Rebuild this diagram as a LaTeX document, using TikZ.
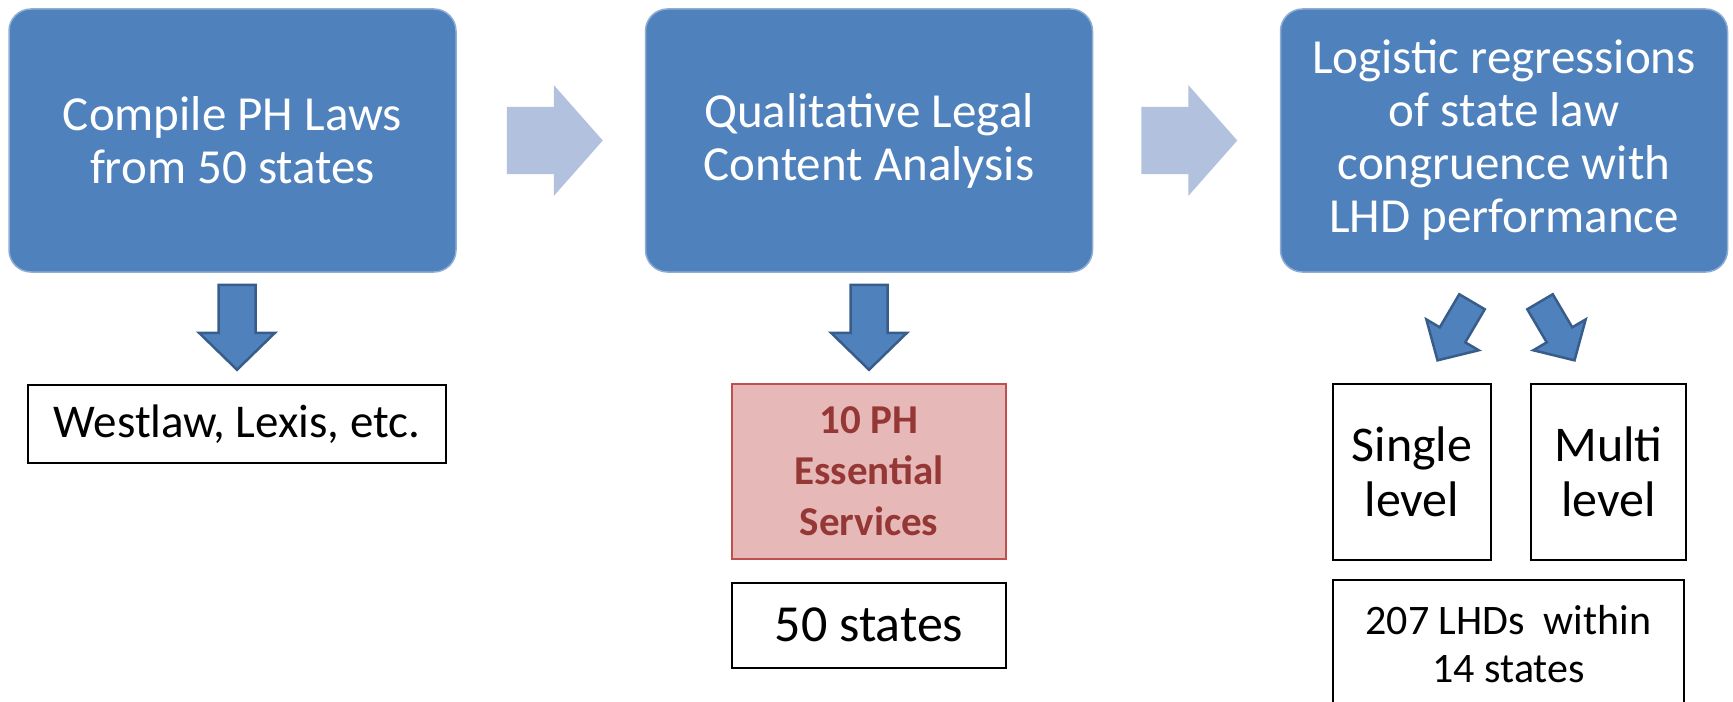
\documentclass[tikz,border=0pt]{standalone}
\usepackage{fontspec}
\setmainfont{Carlito}
\usetikzlibrary{positioning}
\definecolor{stageblue}{HTML}{4F81BD}
\definecolor{stagerim}{HTML}{8EADD4}
\definecolor{stageedge}{HTML}{385D8A}
\definecolor{flowblue}{HTML}{B2C2DE}
\definecolor{essfill}{HTML}{E6B9B8}
\definecolor{essedge}{HTML}{C0504D}
\definecolor{esstext}{HTML}{953735}
\tikzset{
  stagebox/.style={rectangle, rounded corners=11pt, fill=stageblue, draw=stagerim, line width=0.75pt, text=white, minimum width=223.5pt, minimum height=131.5pt, align=center, font=\fontsize{24.5}{26.5}\selectfont},
  resultbox/.style={rectangle, draw=black, line width=1pt, fill=white, align=center, inner sep=0pt},
  essbox/.style={rectangle, draw=essedge, fill=essfill, line width=0.75pt, text=esstext, align=center, inner sep=0pt, font=\bfseries\fontsize{20.5}{25.5}\selectfont},
  flowarrow/.pic={\fill[flowblue] (0,-16.75pt) -- (23.5pt,-16.75pt) -- (23.5pt,-27.75pt) -- (48pt,0) -- (23.5pt,27.75pt) -- (23.5pt,16.75pt) -- (0,16.75pt) -- cycle;},
  downarrow/.pic={\filldraw[fill=stageblue, draw=stageedge, line width=1.25pt] (-9.25pt,0) -- (9.25pt,0) -- (9.25pt,-24pt) -- (19pt,-24pt) -- (0,-42.5pt) -- (-19pt,-24pt) -- (-9.25pt,-24pt) -- cycle;},
}

\begin{document}
\begin{tikzpicture}[x=0.5pt, y=-0.5pt]
  \useasboundingbox (0,0) rectangle (1733,701);
  % the three stages
  \node [stagebox] (compile)  at (232.5,140.5) {Compile PH Laws\\from 50 states};
  \node [stagebox] (analysis) at (869,140.5)   {Qualitative Legal\\Content Analysis};
  \node [stagebox] (logistic) at (1504,140.5)  {Logistic regressions\\of state law\\congruence with\\LHD performance};
  % what comes out of each stage
  \node [resultbox, minimum width=209pt, minimum height=39pt, font=\fontsize{23.5}{28}\selectfont] (westlaw) at (237,424) {Westlaw, Lexis, etc.};
  \node [essbox, minimum width=137pt, minimum height=87.5pt] (essential) at (869,471.5) {10 PH\\Essential\\Services};
  \node [resultbox, minimum width=137pt, minimum height=42.5pt, font=\fontsize{26}{30}\selectfont, below=11pt of essential] (states) {50 states};
  \node [resultbox, minimum width=79pt, minimum height=88pt, font=\fontsize{25}{27.5}\selectfont] (single) at (1412,472) {Single\\level};
  \node [resultbox, minimum width=77.5pt, minimum height=88pt, font=\fontsize{25}{27.5}\selectfont, right=19pt of single] (multi) {Multi\\level};
  \node [resultbox, minimum width=175.5pt, minimum height=64pt, font=\fontsize{21}{24}\selectfont] (lhds) at (1508.5,644) {207 LHDs\ \ within\\14 states};
  % block arrows
  \path (compile.east) ++(50,0) pic {flowarrow};
  \path (analysis.east) ++(48,0) pic {flowarrow};
  \path (compile.south -| westlaw.north) ++(0,12) pic {downarrow};
  \path (analysis.south) ++(0,12) pic {downarrow};
  \path (logistic.south) ++(-32,29) pic [rotate=-30.5, scale=0.8] {downarrow};
  \path (logistic.south) ++(36,29) pic [rotate=30.5, scale=0.8] {downarrow};
\end{tikzpicture}
\end{document}
